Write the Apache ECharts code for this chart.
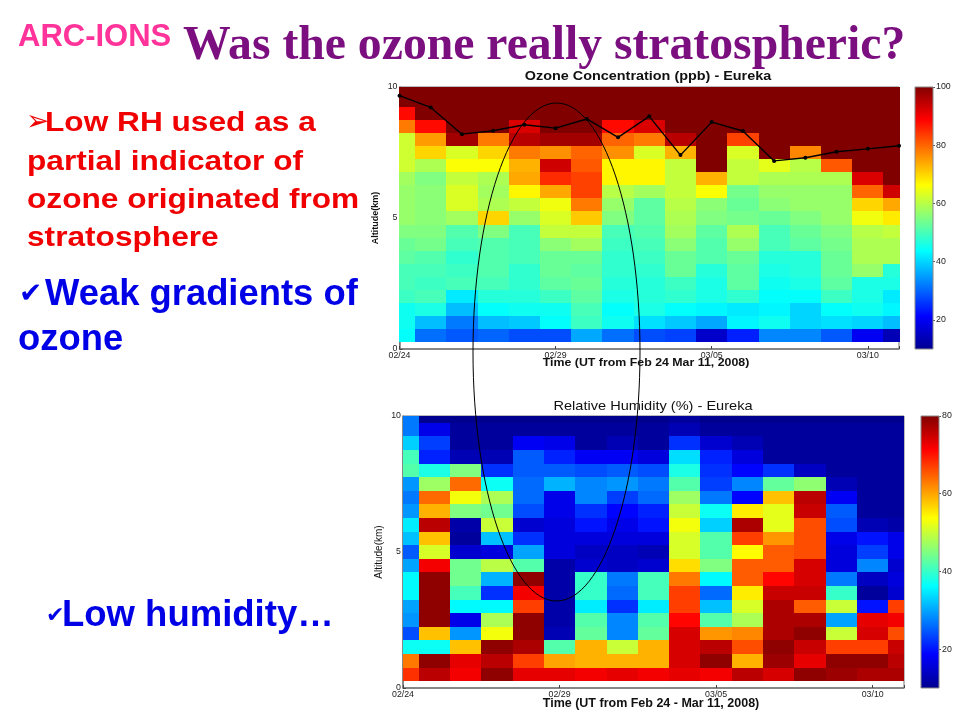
<!DOCTYPE html>
<html><head><meta charset="utf-8">
<style>html,body{margin:0;padding:0;background:#fff}#c{width:960px;height:720px}</style>
<script src="https://cdn.jsdelivr.net/npm/echarts@6/dist/echarts.min.js"></script>
</head><body><div id="c"></div>
<script>
const days=[0,1,2,3,4,5,6,7,8,9,10,11,12,13,14,15,16];
const altitudes=[10,9.5,9,8.5,8,7.5,7,6.5,6,5.5,5,4.5,4,3.5,3,2.5,2,1.5,1,0.5];
const dayTickLabels={0:'02/24',5:'02/29',10:'03/05',15:'03/10'};
const ozoneTicks=[20,40,60,80,100];
const humidityTicks=[20,40,60,80];
const ozoneRows=[
[100,100,100,100,100,100,100,100,100,100,100,100,100,100,100,100,100],
[100,100,100,100,100,100,100,100,100,100,100,100,100,100,100,100,100],
[88,100,100,100,100,100,100,100,100,100,100,100,100,100,100,100,100],
[78,88,100,100,92,100,100,88,92,100,100,100,100,100,100,100,100],
[62,75,97,78,95,97,97,80,78,95,100,83,100,100,100,100,100],
[62,70,63,70,78,76,80,76,63,73,100,63,100,77,100,100,100],
[62,59,66,66,73,93,81,67,67,61,100,61,64,60,81,100,100],
[58,55,61,59,74,85,83,67,67,61,73,61,59,59,59,92,100],
[57,56,63,58,67,74,83,60,58,61,66,54,57,57,57,80,93],
[57,56,63,59,61,65,78,57,52,60,56,53,56,57,57,70,74],
[57,56,58,70,57,63,71,55,52,59,55,54,53,55,57,65,68],
[55,55,51,55,50,61,61,50,51,58,52,59,50,53,55,60,61],
[53,54,50,51,50,56,58,49,50,56,51,57,50,52,54,59,59],
[52,51,48,51,50,53,53,48,49,53,51,53,47,47,53,59,59],
[50,50,49,51,48,53,52,48,48,53,47,52,46,47,53,57,47],
[50,49,50,50,48,52,53,47,47,49,46,52,45,46,52,46,46],
[49,50,42,47,47,49,52,46,47,48,46,48,44,44,49,46,42],
[45,46,38,44,45,45,50,44,46,44,43,42,43,40,44,45,43],
[45,38,32,38,39,44,49,45,41,39,36,43,45,40,41,40,38],
[44,31,29,30,28,28,36,31,28,27,16,24,33,33,29,20,14]];
const humidityRows=[
[27,10,10,10,10,10,10,10,10,11,10,10,10,10,10,10,10],
[27,17,11,11,11,11,11,11,11,13,11,11,11,11,11,11,11],
[33,23,11,11,18,17,11,13,11,22,15,13,11,11,11,11,11],
[41,21,13,13,25,21,18,18,16,34,21,16,11,11,11,11,11],
[42,38,45,22,25,25,24,25,24,38,22,19,22,14,11,11,11],
[29,47,64,37,26,31,28,29,27,42,23,28,43,46,13,11,11],
[27,64,53,48,26,17,28,23,26,47,27,19,58,76,18,11,11],
[29,59,45,44,24,17,22,19,21,50,37,55,52,75,25,11,11],
[35,76,12,50,15,16,20,17,20,53,33,77,52,66,24,13,12],
[32,58,11,32,22,16,16,16,16,51,42,67,61,66,17,20,17],
[25,51,15,16,30,16,14,14,13,51,42,54,65,66,16,23,17],
[30,72,44,49,42,12,15,14,15,56,45,65,65,74,16,28,15],
[36,79,44,31,79,12,40,27,41,63,36,65,71,74,27,14,16],
[36,79,41,22,72,12,40,26,41,67,26,55,75,75,40,11,15],
[30,79,36,36,67,12,35,22,35,67,32,51,77,65,50,20,67],
[29,79,17,48,79,12,42,28,42,71,42,48,77,77,30,73,72],
[24,58,29,53,79,13,43,28,43,74,61,62,77,79,50,74,66],
[37,37,58,79,77,42,59,50,59,74,76,66,79,75,67,67,75],
[63,79,73,76,67,60,59,59,59,74,79,59,78,73,79,79,76],
[68,76,72,79,73,73,72,73,72,73,72,76,74,79,78,77,77]];
const tropopause=[9.67,9.22,8.2,8.33,8.56,8.43,8.78,8.08,8.88,7.4,8.66,8.32,7.18,7.3,7.53,7.64,7.76];
const jet=['#00008f','#0000ff','#0080ff','#00ffff','#80ff80','#ffff00','#ff8000','#ff0000','#800000'];

const SANS='"Liberation Sans",Arial,sans-serif';
function cells(rows){const o=[];rows.forEach((r,i)=>r.forEach((v,j)=>o.push([days[j],altitudes[i],v])));return o;}
function renderCell(params,api){
  const d=api.value(0),a=api.value(1);
  const p0=api.coord([d-0.5,a+0.25]),p1=api.coord([d+0.5,a-0.25]);
  const x0=Math.round(p0[0]),x1=Math.round(p1[0]),y0=Math.round(p0[1]),y1=Math.round(p1[1]);
  return {type:'rect',shape:{x:x0,y:y0,width:x1-x0,height:y1-y0},
    style:{fill:api.visual('color'),stroke:null,opacity:1}};
}
function renderBar(params,api){
  const p0=api.coord([0,api.value(1)]),p1=api.coord([1,api.value(0)]);
  const stops=jet.map((c,i)=>({offset:i/(jet.length-1),color:c}));
  return {type:'rect',shape:{x:p0[0],y:p0[1],width:p1[0]-p0[0],height:p1[1]-p0[1]},
    style:{fill:new echarts.graphic.LinearGradient(0,1,0,0,stops),stroke:'#888',lineWidth:1}};
}
const lab={fontFamily:SANS,fontSize:8.8,color:'#222'};
function xAx(g){return {gridIndex:g,type:'value',min:0,max:16,interval:5,
  axisLine:{show:true,lineStyle:{color:'#777',width:1.5}},
  axisTick:{show:true,inside:true,length:3,lineStyle:{color:'#444'}},
  splitLine:{show:false},
  axisLabel:{...lab,margin:2,hideOverlap:false,showMinLabel:true,formatter:v=>dayTickLabels[v]||''}};}
function yAx(g){return {gridIndex:g,type:'value',min:0,max:10,interval:5,
  axisLine:{show:true,lineStyle:{color:'#777',width:1.5}},
  axisTick:{show:true,inside:true,length:3,lineStyle:{color:'#444'}},
  splitLine:{show:false},
  axisLabel:{...lab,margin:2}};}
function barX(g){return {gridIndex:g,type:'value',min:0,max:1,show:false};}
function barY(g,mn,mx,t){return {gridIndex:g,type:'value',min:mn,max:mx,position:'right',
  axisLine:{show:false,onZero:false},splitLine:{show:false},
  axisTick:{show:true,inside:false,length:2,customValues:t,lineStyle:{color:'#555'}},
  axisLabel:{...lab,margin:3,customValues:t}};}
function slide(x,y,text,size,color,extra){
  return {type:'text',x:x,y:y,z:50,scaleX:(extra&&extra.sx)||1,style:Object.assign({text:text,fontFamily:SANS,fontWeight:'bold',fontSize:size,fill:color,textVerticalAlign:'middle',textBaseline:'middle'},extra||{})};
}
function label(x,y,text,size,weight,sx,rot){
  return {type:'text',x:x,y:y,z:50,scaleX:sx||1,rotation:rot||0,style:{text:text,fontFamily:SANS,fontWeight:weight,fontSize:size,fill:'#111',textAlign:'center',textBaseline:'middle',textVerticalAlign:'middle'}};
}
const RED='#f00000',BLUE='#0000e6';
const option={
  animation:false,backgroundColor:'#fff',
  grid:[
    {left:399.5,top:87,width:499.5,height:262,show:true,borderColor:'#777',backgroundColor:'#fff'},
    {left:403,top:416,width:501,height:272,show:true,borderColor:'#777',backgroundColor:'#fff'},
    {left:915,top:87,width:18,height:262},
    {left:921,top:416,width:18,height:272}
  ],
  xAxis:[xAx(0),xAx(1),barX(2),barX(3)],
  yAxis:[yAx(0),yAx(1),barY(2,10,100,ozoneTicks),barY(3,10,80,humidityTicks)],
  visualMap:[
    {show:false,seriesIndex:0,dimension:2,min:10,max:100,inRange:{color:jet}},
    {show:false,seriesIndex:1,dimension:2,min:10,max:80,inRange:{color:jet}}
  ],
  series:[
    {type:'custom',name:'Ozone',xAxisIndex:0,yAxisIndex:0,clip:true,renderItem:renderCell,data:cells(ozoneRows),encode:{x:0,y:1},silent:true},
    {type:'custom',name:'RH',xAxisIndex:1,yAxisIndex:1,clip:true,renderItem:renderCell,data:cells(humidityRows),encode:{x:0,y:1},silent:true},
    {type:'line',name:'Tropopause',xAxisIndex:0,yAxisIndex:0,z:5,data:tropopause.map((v,i)=>[days[i],v]),
      symbol:'circle',symbolSize:4,lineStyle:{color:'#000',width:1.4},itemStyle:{color:'#000'},clip:false},
    {type:'custom',xAxisIndex:2,yAxisIndex:2,renderItem:renderBar,data:[[10,100]],silent:true,encode:{y:[0,1]}},
    {type:'custom',xAxisIndex:3,yAxisIndex:3,renderItem:renderBar,data:[[10,80]],silent:true,encode:{y:[0,1]}}
  ],
  graphic:[
    {type:'ellipse',z:40,silent:true,shape:{cx:556.5,cy:352,rx:83.5,ry:249},style:{fill:'transparent',stroke:'#000',lineWidth:1}},
    slide(18,37,'ARC-IONS',31,'#ff3399'),
    {type:'text',x:183,y:47,z:50,style:{text:'Was the ozone really stratospheric?',fontFamily:'"Liberation Serif",serif',fontWeight:'bold',fontSize:47.7,fill:'#7b0f80',textBaseline:'middle',textVerticalAlign:'middle'}},
    slide(26,123,'➢',28,RED,{fontFamily:'"DejaVu Sans"'}),
    slide(45,123,'Low RH used as a',28,RED,{sx:1.13}),
    slide(27,162,'partial indicator of',28,RED,{sx:1.13}),
    slide(27,200,'ozone originated from',28,RED,{sx:1.13}),
    slide(27,238,'stratosphere',28,RED,{sx:1.13}),
    slide(19,295,'✔',28,BLUE,{fontFamily:'"DejaVu Sans"'}),
    slide(45,295,'Weak gradients of',36.4,BLUE),
    slide(18,340,'ozone',36.4,BLUE),
    slide(46,616,'✔',22,BLUE,{fontFamily:'"DejaVu Sans"'}),
    slide(62,616,'Low humidity…',36.5,BLUE),
    label(648,77,'Ozone Concentration (ppb) - Eureka',12,'bold',1.2),
    label(653,406,'Relative Humidity (%) - Eureka',13,'normal',1.12),
    label(646,363,'Time (UT from Feb 24 Mar 11, 2008)',11.5,'bold',1.075),
    label(651,704,'Time (UT from Feb 24 - Mar 11, 2008)',12.5,'bold',1),
    label(376,218,'Altitude(km)',9,'bold',1,Math.PI/2),
    label(379.5,552,'Altitude(km)',10,'normal',1,Math.PI/2)
  ]
};
const chart=echarts.init(document.getElementById('c'),null,{width:960,height:720,renderer:'canvas'});
chart.setOption(option);
</script></body></html>
